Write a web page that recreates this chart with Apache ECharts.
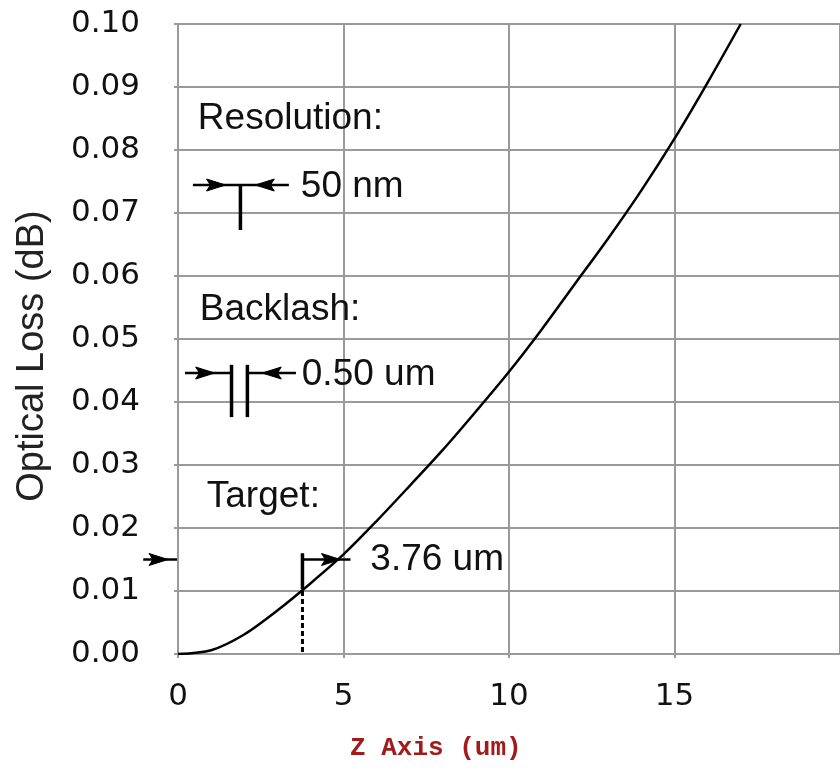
<!DOCTYPE html>
<html><head><meta charset="utf-8">
<script src="https://cdn.jsdelivr.net/npm/echarts@6/dist/echarts.min.js"></script>
<style>html,body{margin:0;padding:0;background:#fff}#c{width:840px;height:771px}</style>
</head><body><div id="c"></div>
<script>
// ---- data ----
const zAxis = [0,1,2,3,4,5,6,7,8,9,10,11,12,13,14,15,16,17];
const opticalLoss = [0,0.0006,0.0031,0.0069,0.0112,0.0158,0.0211,0.0267,0.0324,0.0385,0.0448,0.0516,0.0588,0.0660,0.0736,0.0818,0.0907,0.1000];
const xTickValues = [0,5,10,15];
const annotationTexts = ['Resolution:', '50 nm', 'Backlash:', '0.50 um', 'Target:', '3.76 um'];
const annotationAnchors = [[0.60,0.0849],[3.71,0.0741],[0.66,0.0546],[3.74,0.0443],[0.87,0.0249],[5.81,0.0149]];
const targetZ = 3.76, targetLossAtZ = 0.010, targetLoss = 0.015;
// annotation strokes in data coords
const solidSegments = [
  [[0.45,0.07444],[3.35,0.07444]], [[1.886,0.07444],[1.886,0.0673]],
  [[0.21,0.0446],[1.617,0.0446]], [[1.617,0.0459],[1.617,0.0376]],
  [[2.096,0.0459],[2.096,0.0376]], [[2.096,0.0446],[3.563,0.0446]],
  [[-1.05,targetLoss],[-0.03,targetLoss]],
  [[targetZ,0.016],[targetZ,0.0103]], [[targetZ,targetLoss],[5.21,targetLoss]]
];
const dashedSegments = [[[targetZ,targetLossAtZ],[targetZ,0]]];
const arrowTips = [
  [[1.437,0.07444],1],[[2.335,0.07444],-1],
  [[1.108,0.0446],1],[[2.545,0.0446],-1],
  [[-0.30,targetLoss],1],[[4.91,targetLoss],1]
];

const chart = echarts.init(document.getElementById('c'), null, {renderer:'canvas'});
const gridColor = '#9a9a9a';
chart.setOption({
  animation:false,
  backgroundColor:'#fff',
  title:{text:'Z Axis (um)', left:350, top:735, padding:0,
    textStyle:{fontFamily:'Liberation Mono', fontSize:26, fontWeight:'bold', color:'#a31a1a'}},
  grid:{left:178, top:24, bottom:117, right:-6, containLabel:false},
  xAxis:{type:'value', min:0, max:20, interval:5,
    axisLine:{show:true, lineStyle:{color:gridColor, width:2}},
    axisTick:{show:true, length:4, lineStyle:{color:gridColor, width:2}},
    splitLine:{show:true, lineStyle:{color:gridColor, width:2}},
    axisLabel:{fontFamily:'DejaVu Sans', fontSize:31, color:'#111', margin:27, showMaxLabel:false,
      formatter:v=> xTickValues.includes(v) ? String(v) : ''}},
  yAxis:{type:'value', min:0, max:0.1, interval:0.01,
    name:'Optical Loss (dB)', nameLocation:'middle', nameGap:126,
    nameTextStyle:{fontFamily:'Liberation Sans', fontSize:38, color:'#222', padding:[0,34,0,0]},
    axisLine:{show:true, lineStyle:{color:gridColor, width:2}},
    axisTick:{show:true, length:4, lineStyle:{color:gridColor, width:2}},
    splitLine:{show:true, lineStyle:{color:gridColor, width:2}},
    axisLabel:{fontFamily:'DejaVu Sans', fontSize:31, color:'#111', margin:38,
      formatter:v=>v.toFixed(2)}},
  series:[{type:'line', data:zAxis.map((z,i)=>[z,opticalLoss[i]]), smooth:0.3, showSymbol:false,
    lineStyle:{color:'#000', width:2.5}, z:5}]
});

function P(p){ return chart.convertToPixel({seriesIndex:0}, p); }
const g = [];
solidSegments.forEach(s=>{
  const a=P(s[0]), b=P(s[1]);
  const vertical = Math.abs(a[0]-b[0])<1;
  g.push({type:'line', shape:{x1:a[0],y1:a[1],x2:b[0],y2:b[1]}, style:{stroke:'#000', lineWidth: vertical?3.5:2.5}, z:10});
});
dashedSegments.forEach(s=>{
  const a=P(s[0]), b=P(s[1]);
  g.push({type:'line', shape:{x1:a[0],y1:a[1],x2:b[0],y2:b[1]}, style:{stroke:'#000', lineWidth:3, lineDash:[5,3]}, z:10});
});
arrowTips.forEach(([t,dir])=>{
  const p=P(t); const L=19, H=6;
  g.push({type:'polygon', shape:{points:[[p[0],p[1]],[p[0]-dir*L,p[1]-H],[p[0]-dir*L*0.8,p[1]],[p[0]-dir*L,p[1]+H]]},
    style:{fill:'#000', stroke:'#000', lineWidth:1}, z:11});
});
annotationTexts.forEach((t,i)=>{
  const p=P(annotationAnchors[i]);
  g.push({type:'text', x:p[0], y:p[1], style:{text:t, fill:'#111', font:'37px "Liberation Sans"',
    align:'left', verticalAlign:'middle', textAlign:'left', textVerticalAlign:'middle'}, z:12});
});
chart.setOption({graphic:g});
</script></body></html>
